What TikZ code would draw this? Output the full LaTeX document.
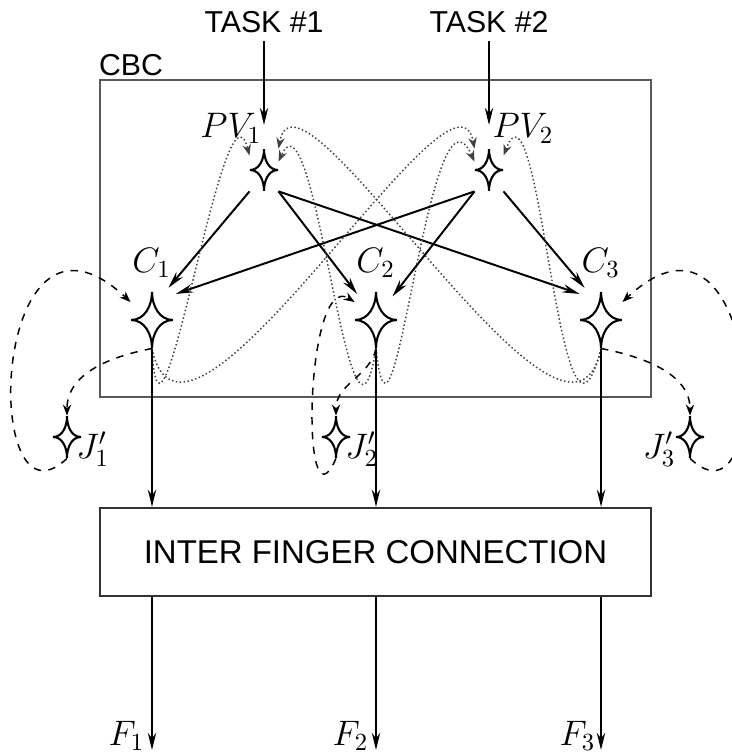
\documentclass[tikz,border=0pt]{standalone}
\usepackage{fontspec}
\setsansfont{Liberation Sans}
\usetikzlibrary{positioning, arrows.meta}

\tikzset{
  cusp/.style 2 args={minimum width=#1, minimum height=#2, inner sep=0pt,
    path picture={\draw[line width=0.85pt]
      (path picture bounding box.north) to[out=-90,in=180] (path picture bounding box.east)
      to[out=180,in=90] (path picture bounding box.south)
      to[out=90,in=0] (path picture bounding box.west)
      to[out=0,in=-90] cycle;}},
  smallcusp/.style={cusp={11.4pt}{17pt}},
  bigcusp/.style={cusp={17pt}{22.8pt}}
}

\begin{document}
\begin{tikzpicture}[x=0.4065pt, y=-0.4065pt,
    flow/.style={line width=0.8pt, -{Stealth[length=7pt,width=3.4pt]}},
    cross/.style={draw=black!75, densely dotted, line width=0.6pt, -{Stealth[length=4.5pt,width=3.4pt]}},
    relay/.style={dashed, line width=0.6pt, -{Stealth[length=4.5pt,width=3.4pt]}},
    lab/.style={inner sep=0pt, font=\fontsize{14}{16}\selectfont},
    txt/.style={font=\sffamily\fontsize{12.3}{14}\selectfont}]

  \useasboundingbox (0,0) rectangle (731,752);

  % Tasks
  \node[txt] (task1) at (264,22) {TASK \#1};
  \node[txt] (task2) at (489,22) {TASK \#2};

  % CBC block
  \node[draw=black!65, line width=1.1pt, minimum width=224pt, minimum height=128.9pt, inner sep=0pt] (cbc) at (375.5,238.5) {};
  \node[txt, anchor=base west, inner sep=0pt] (cbclab) at ([yshift=1.2pt]cbc.north west) {CBC};

  % Stars
  \node[smallcusp] (pv1) at (264,170) {};
  \node[smallcusp] (pv2) at (489,170) {};
  \node[bigcusp] (c1) at (152,320) {};
  \node[bigcusp] (c2) at (376,320) {};
  \node[bigcusp] (c3) at (601,320) {};
  \node[smallcusp] (j1) at (67,437) {};
  \node[smallcusp] (j2) at (336,437) {};
  \node[smallcusp] (j3) at (690,437) {};

  % Labels
  \node[lab, anchor=base west] (lpv1) at (200,138) {$PV_1$};
  \node[lab, anchor=base west] (lpv2) at (492,138) {$PV_2$};
  \node[lab, anchor=base west] (lc1) at (132,272) {$C_1$};
  \node[lab, anchor=base west] (lc2) at (356,272) {$C_2$};
  \node[lab, anchor=base west] (lc3) at (581,272) {$C_3$};
  \node[lab, anchor=base west] (lj1) at (76,458) {$J'_1$};
  \node[lab, anchor=base west] (lj2) at (345,458) {$J'_2$};
  \node[lab, anchor=base east] (lj3) at (676,458) {$J'_3$};

  % Inter finger connection
  \node[draw=black!80, line width=0.9pt, minimum width=224pt, minimum height=35.8pt,
    font=\sffamily\fontsize{13.4}{15}\selectfont] (ifc) at (375.5,552) {INTER FINGER CONNECTION};

  % Task inputs
  \draw[flow, shorten >=9.6pt] (task1) -- (pv1);
  \draw[flow, shorten >=9.6pt] (task2) -- (pv2);

  % PV to C
  \draw[flow] (pv1.south west) -- ([xshift=-2pt,yshift=1.5pt]c1.north east);
  \draw[flow] (pv1.south east) -- ([xshift=1pt,yshift=-1pt]c2.north west);
  \draw[flow] (pv1.south east) -- ([yshift=-1pt]c3.north west);
  \draw[flow] (pv2.south west) -- ([xshift=1pt,yshift=-1pt]c1.north east);
  \draw[flow] (pv2.south west) -- ([xshift=-2pt,yshift=-2pt]c2.north east);
  \draw[flow] (pv2.south east) -- ([xshift=2pt,yshift=1.5pt]c3.north west);

  % C back to PV
  \draw[cross] (c1.south) .. controls +(8,160) and +(-25,-96) .. (pv1.135);
  \draw[cross] (c1.south) .. controls +(33,160) and +(-20,-109) .. (pv2.north west);
  \draw[cross] (c2.south) .. controls +(-26,160) and +(37,-82) .. (pv1.30);
  \draw[cross] (c2.south) .. controls +(17,160) and +(-45,-102) .. (pv2.150);
  \draw[cross] (c3.south) .. controls +(-41,160) and +(37,-96) .. (pv2.45);
  \draw[cross] (c3.south) .. controls +(-33,160) and +(20,-109) .. (pv1.north east);

  % Joint loops
  \draw[relay] (c1.south) .. controls +(-42,8) and +(0,-42) .. (j1.north);
  \draw[relay] (j1.south) .. controls +(-87,83) and +(-141,-132) .. (c1.140);
  \draw[relay] (c2.south) .. controls +(-6,28) and +(0,-32) .. (j2.north);
  \draw[relay] (j2.south) .. controls +(-36,83) and +(-50,-32) .. (c2.140);
  \draw[relay] (c3.south) .. controls +(42,8) and +(0,-42) .. (j3.north);
  \draw[relay] (j3.south) .. controls +(87,83) and +(141,-132) .. (c3.40);

  % C to fingers
  \draw[flow] (c1.south) -- (c1.south |- ifc.north);
  \draw[flow] (c2.south) -- (c2.south |- ifc.north);
  \draw[flow] (c3.south) -- (c3.south |- ifc.north);

  % Forces
  \coordinate (f1) at (152,750);
  \coordinate (f2) at (376,750);
  \coordinate (f3) at (601,750);
  \draw[flow] (ifc.south -| f1) -- (f1);
  \draw[flow] (ifc.south -| f2) -- (f2);
  \draw[flow] (ifc.south -| f3) -- (f3);
  \node[lab, anchor=base east] (lf1) at (145,745) {$F_1$};
  \node[lab, anchor=base east] (lf2) at (369,745) {$F_2$};
  \node[lab, anchor=base east] (lf3) at (596,745) {$F_3$};

\end{tikzpicture}
\end{document}
